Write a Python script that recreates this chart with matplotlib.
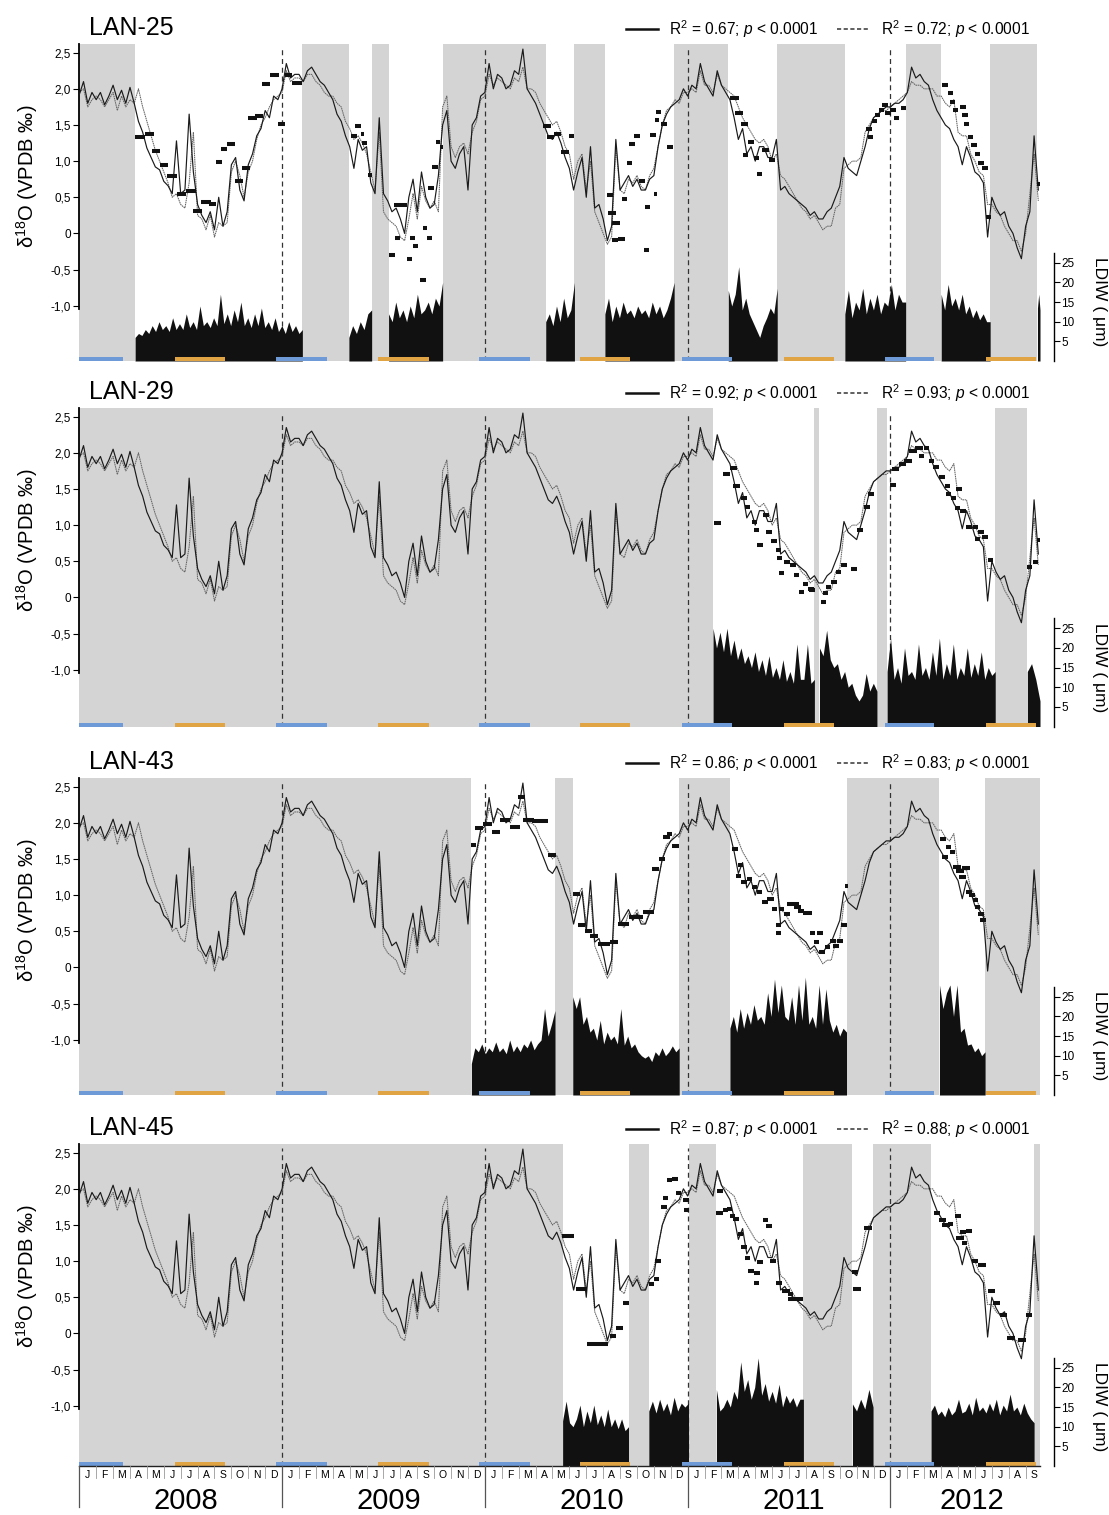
import matplotlib
matplotlib.use('Agg')
import matplotlib.pyplot as plt
import numpy as np
from matplotlib.lines import Line2D

plt.rcParams['font.family'] = ['Liberation Sans', 'DejaVu Sans']
plt.rcParams['mathtext.fontset'] = 'custom'
plt.rcParams['mathtext.rm'] = 'Liberation Sans'
plt.rcParams['mathtext.it'] = 'Liberation Sans:italic'

# predicted d18O from temperature, 4 samples per month starting Jan 2008
step = 0.25
pred_a = [
    1.92, 2.10, 1.80, 1.95, 1.85, 1.95, 1.78, 1.90, 2.05, 1.85, 1.98, 1.80,
    2.02, 1.80, 1.55, 1.40, 1.18, 1.05, 0.92, 0.88, 0.72, 0.66, 0.55, 1.28,
    0.55, 0.60, 1.65, 0.85, 0.40, 0.25, 0.15, 0.30, 0.05, 0.50, 0.10, 0.30,
    0.95, 1.05, 0.60, 0.45, 0.95, 1.10, 1.35, 1.45, 1.70, 1.60, 1.90, 1.85,
    2.00, 2.35, 2.15, 2.20, 2.20, 2.10, 2.25, 2.30, 2.20, 2.10, 2.05, 1.95,
    1.85, 1.65, 1.55, 1.35, 1.20, 0.90, 1.30, 1.15, 1.20, 0.70, 0.55, 1.60,
    0.55, 0.45, 0.30, 0.35, 0.20, 0.00, 0.50, 0.75, 0.30, 0.85, 0.50, 0.35,
    0.40, 0.80, 1.50, 1.70, 1.00, 0.90, 1.10, 1.20, 0.60, 1.50, 1.60, 1.90,
    1.95, 2.35, 2.00, 2.20, 2.15, 2.00, 2.05, 2.25, 2.20, 2.55, 2.00, 1.90,
    1.80, 1.65, 1.50, 1.35, 1.30, 1.40, 1.25, 1.05, 0.90, 0.60, 0.85, 1.05,
    0.50, 1.20, 0.35, 0.40, 0.20, -0.10, 0.10, 1.30, 0.60, 0.70, 0.80, 0.65,
    0.75, 0.60, 0.60, 0.75, 0.80, 1.20, 1.50, 1.65, 1.75, 1.80, 1.85, 2.00,
    1.90, 2.05, 2.00, 2.35, 2.10, 2.00, 1.90, 2.25, 2.05, 1.95, 1.85, 1.60,
    1.30, 1.45, 1.10, 1.20, 1.00, 1.20, 1.20, 1.05, 1.05, 1.30, 0.60, 0.65,
    0.55, 0.50, 0.45, 0.40, 0.35, 0.25, 0.30, 0.20, 0.20, 0.30, 0.35, 0.50,
    0.65, 1.05, 0.90, 0.85, 0.80, 1.00, 1.20, 1.45, 1.60, 1.65, 1.70, 1.75,
    1.75, 1.80, 1.80, 1.85, 1.95, 2.30, 2.15, 2.20, 2.10, 2.05, 1.85, 1.70,
    1.60, 1.50, 1.45, 1.30, 1.20, 0.95, 1.20, 1.05, 0.85, 0.80, 0.70, -0.05,
    0.50, 0.35, 0.25, 0.30, 0.10, 0.00, -0.20, -0.35, 0.10, 0.30, 1.35, 0.60,
]
pred_b = [
    1.95, 2.00, 1.75, 1.85, 1.90, 1.85, 1.75, 1.85, 1.95, 1.70, 1.90, 1.75,
    1.85, 1.80, 2.00, 1.75, 1.55, 1.35, 1.15, 1.00, 0.85, 0.70, 0.50, 0.55,
    0.40, 0.35, 0.70, 1.40, 0.25, 0.20, 0.05, 0.25, -0.05, 0.15, 0.10, 0.15,
    0.85, 1.00, 0.80, 0.50, 0.85, 1.00, 1.30, 1.50, 1.60, 1.75, 1.85, 1.90,
    1.95, 2.25, 2.10, 2.15, 2.15, 2.10, 2.20, 2.20, 2.10, 2.05, 1.95, 1.90,
    1.90, 1.80, 1.75, 1.55, 1.45, 1.30, 1.35, 1.25, 1.10, 0.85, 0.60, 1.40,
    0.30, 0.20, 0.15, 0.10, -0.05, -0.10, 0.20, 0.55, 0.20, 0.65, 0.45, 0.35,
    0.45, 0.30, 1.75, 1.90, 1.20, 1.05, 1.20, 1.25, 1.10, 1.40, 1.55, 1.85,
    1.90, 2.20, 2.05, 2.15, 2.10, 2.05, 2.00, 2.15, 2.10, 2.30, 2.00, 2.00,
    1.95, 1.80, 1.70, 1.60, 1.50, 1.55, 1.40, 1.20, 1.10, 0.75, 1.00, 1.10,
    0.60, 1.00, 0.30, 0.15, 0.00, -0.15, -0.05, 1.20, 0.60, 0.55, 0.75, 0.70,
    0.80, 0.65, 0.60, 0.80, 0.90, 1.20, 1.50, 1.70, 1.75, 1.85, 1.80, 1.95,
    1.95, 2.00, 1.95, 2.25, 2.05, 2.05, 1.95, 2.20, 2.05, 2.00, 1.95, 1.90,
    1.75, 1.60, 1.50, 1.40, 1.30, 1.25, 1.30, 1.20, 1.00, 1.10, 0.80, 0.75,
    0.65, 0.55, 0.45, 0.35, 0.30, 0.20, 0.25, 0.15, 0.05, 0.10, 0.10, 0.35,
    0.40, 0.90, 0.95, 1.00, 1.00, 1.05, 1.40, 1.50, 1.60, 1.65, 1.70, 1.70,
    1.75, 1.80, 1.85, 1.90, 1.95, 2.10, 2.05, 2.05, 2.00, 2.00, 2.00, 1.90,
    1.90, 1.80, 1.75, 1.85, 1.40, 1.35, 1.35, 1.10, 1.00, 0.85, 0.80, 0.40,
    0.40, 0.30, 0.25, 0.10, 0.00, -0.10, -0.10, -0.25, 0.00, 0.55, 1.10, 0.45,
]

shells = ['LAN-25', 'LAN-29', 'LAN-43', 'LAN-45']
r2_solid = ['0.67', '0.92', '0.86', '0.87']
r2_dash = ['0.72', '0.93', '0.83', '0.88']

# growth stops (grey), in months since Jan 2008
gaps = {
    'LAN-25': [(0, 3.3), (13.2, 15.95), (17.3, 18.3), (21.5, 27.6), (29.3, 31.1),
               (35.2, 38.4), (41.3, 45.3), (48.9, 51.0), (53.9, 56.7)],
    'LAN-29': [(0, 37.5), (43.5, 43.8), (47.2, 47.8), (54.2, 56.1)],
    'LAN-43': [(0, 23.2), (28.15, 29.2), (35.5, 38.5), (45.4, 50.9), (53.6, 56.85)],
    'LAN-45': [(0, 28.6), (32.5, 33.7), (36.05, 37.7), (42.85, 45.75), (46.97, 50.4),
               (56.5, 56.85)],
}

# daily increment width (um) for each growth period: (start, end, values)
ldiw = {
    'LAN-25': [
        (3.3, 13.2, [6, 7, 6.5, 8, 7, 9, 7.5, 10, 8, 9, 7.5, 11, 8, 9.5, 8, 12, 8.5, 10, 8, 14,
                     9, 10, 8.5, 11, 9, 17, 9.5, 12, 9, 13, 10, 15, 9, 11, 8.5, 12, 9, 13.5,
                     8.5, 10, 8, 11, 7.5, 9, 7, 10, 7.5, 9, 7, 8]),
        (15.95, 17.3, [6, 9, 7, 10, 8, 12, 13]),
        (18.3, 21.5, [12, 10, 15, 11, 13, 10, 14, 11, 17, 12, 13, 15, 12, 16, 14, 20]),
        (27.6, 29.3, [10, 12, 9, 14, 10, 16, 11, 13, 20]),
        (31.1, 35.2, [12, 16, 10, 14, 11, 15, 12, 13, 11, 14, 12, 13, 11, 15, 12, 14, 11, 13,
                      16, 20]),
        (38.4, 41.3, [18, 14, 17, 24, 13, 16, 12, 10, 8, 6, 9, 11, 13.5, 12, 18.5]),
        (45.3, 48.9, [12, 18, 11, 15, 13, 18.5, 12, 16, 13, 17, 12, 15, 14, 19.5, 13, 17, 15,
                      15]),
        (51.0, 53.9, [17, 13, 19.5, 14, 16, 13, 17, 12, 14, 11, 13, 10.5, 12, 10, 10]),
        (56.7, 56.85, [13.5, 17, 13]),
    ],
    'LAN-29': [
        (37.5, 43.5, [25, 20, 24, 19, 25, 18, 22, 17, 20, 16, 18, 15, 19, 14, 17, 13, 18, 12.5,
                      15, 12, 17, 11.5, 14, 11, 21, 12, 12, 21, 11, 12]),
        (43.8, 47.2, [20, 18, 24.5, 17, 15, 16, 12, 14, 10, 11, 8, 6.5, 8, 13.5, 9, 11, 9]),
        (47.8, 54.2, [14, 22.5, 12, 15, 11, 20, 13, 14, 12, 21, 13, 15, 12, 19, 13, 22.5, 12,
                      16, 13, 21, 12, 15, 13, 20, 12.5, 16, 13, 19, 12, 15, 13, 14]),
        (56.1, 56.85, [14, 16, 12, 6.5]),
    ],
    'LAN-43': [
        (23.2, 28.15, [8, 12, 11, 13, 10.5, 12, 11, 13.5, 11, 12, 10.5, 14, 11, 12.5, 11, 13,
                       12, 14, 11.5, 13, 14, 22, 15, 18, 21.5]),
        (29.2, 35.5, [25, 22, 25, 18, 20, 16, 17, 14, 19, 13, 16, 14, 15, 13, 22, 12.7, 15, 12,
                      13, 11, 10, 9.4, 10, 8.5, 11, 10, 12, 10, 11, 12.5, 11, 12]),
        (38.5, 45.4, [17, 20, 16, 22, 17, 21, 18, 23, 19, 20, 18, 26, 20, 29.5, 21, 28, 20, 19,
                      25, 18, 28, 19, 30, 18, 20, 17, 28, 18, 27, 19, 16, 18, 15, 17, 16]),
        (50.9, 53.6, [28, 22, 26, 28, 20, 28, 16, 17, 12.7, 13, 11, 12, 10, 11]),
    ],
    'LAN-45': [
        (28.6, 32.5, [11.5, 16.5, 11, 10, 12, 15.5, 10, 14, 11, 15.5, 10.5, 13, 10, 14.5, 10,
                      12, 9.5, 12, 9, 10]),
        (33.7, 36.05, [14, 16.5, 13.5, 17, 14, 16, 13, 17.5, 14, 16, 15, 16]),
        (37.7, 42.85, [19.5, 14, 15, 17, 15, 19, 17, 26.5, 19, 22, 17, 20, 27.5, 18, 21, 16.5,
                       19, 16, 20.8, 15, 18, 16, 17.4, 15, 17, 17]),
        (45.75, 46.97, [15.8, 14, 17, 14.5, 19.5, 15]),
        (50.4, 56.5, [14, 15.5, 13, 14, 12.5, 15, 13, 14, 17, 13.5, 14, 16, 13, 17.5, 14, 15,
                      13.5, 16, 14, 17, 13, 15.5, 14, 18.3, 14, 15, 13, 16, 13.5, 12, 11]),
    ],
}

# measured shell d18O samples: (start month, end month, value)
measured = {
    'LAN-25': [
        (3.30, 3.86, 1.34), (3.86, 4.40, 1.37), (4.30, 4.80, 1.14), (4.75, 5.24, 0.95),
        (5.20, 5.77, 0.79), (5.80, 6.30, 0.55), (6.30, 6.90, 0.58), (6.70, 7.25, 0.31),
        (7.20, 7.80, 0.44), (7.67, 8.10, 0.41), (8.10, 8.45, 0.99), (8.37, 8.75, 1.17),
        (8.75, 9.20, 1.23), (9.20, 9.68, 0.72), (9.60, 10.10, 0.90), (10.00, 10.50, 1.59),
        (10.40, 10.90, 1.62), (10.84, 11.30, 2.06), (11.26, 11.80, 2.19), (11.75, 12.20, 1.51),
        (12.15, 12.60, 2.19), (12.60, 13.20, 2.08),
        (16.10, 16.44, 1.35), (16.30, 16.65, 1.49), (16.65, 16.86, 1.37), (16.75, 17.00, 1.25),
        (17.07, 17.30, 0.81),
        (18.34, 18.66, -0.30), (18.66, 18.97, -0.06), (18.60, 19.40, 0.39), (19.40, 19.70, -0.36),
        (19.56, 19.88, -0.06), (19.75, 20.07, -0.18), (20.17, 20.50, -0.65), (20.35, 20.60, 0.07),
        (20.56, 20.87, -0.06), (20.66, 20.98, 0.63), (20.87, 21.20, 0.92), (21.10, 21.34, 1.27),
        (21.34, 21.50, 1.20),
        (27.46, 27.90, 1.48), (27.70, 28.10, 1.34), (28.10, 28.50, 1.38), (28.50, 28.96, 1.13),
        (28.96, 29.30, 1.35),
        (31.20, 31.60, 0.53), (31.30, 31.75, 0.28), (31.50, 32.00, 0.15), (31.50, 31.85, -0.09),
        (31.90, 32.30, -0.08), (32.10, 32.40, 0.48), (32.40, 32.70, 0.98), (32.50, 32.90, 1.24),
        (32.80, 33.20, 1.35), (33.15, 33.50, 0.72), (33.40, 33.70, -0.23), (33.50, 33.80, 0.37),
        (33.80, 34.10, 1.36), (34.00, 34.20, 0.54), (34.07, 34.30, 1.57), (34.10, 34.40, 1.68),
        (34.40, 34.75, 1.51), (34.75, 35.15, 1.20),
        (38.50, 39.05, 1.87), (38.80, 39.25, 1.66), (39.15, 39.60, 1.51), (39.26, 39.60, 1.08),
        (39.60, 39.90, 1.27), (39.90, 40.20, 1.05), (40.10, 40.40, 0.82), (40.40, 40.80, 1.15),
        (40.80, 41.15, 1.02),
        (46.55, 46.90, 1.45), (46.66, 46.97, 1.34), (46.90, 47.20, 1.55), (47.10, 47.40, 1.64),
        (47.30, 47.60, 1.71), (47.50, 47.85, 1.78), (47.70, 48.05, 1.66), (47.95, 48.30, 1.71),
        (48.20, 48.50, 1.59), (48.60, 48.90, 1.73),
        (51.06, 51.40, 2.05), (51.40, 51.70, 1.94), (51.50, 51.80, 1.82), (51.70, 52.00, 1.71),
        (52.10, 52.46, 1.75), (52.25, 52.56, 1.64), (52.35, 52.67, 1.52), (52.57, 52.90, 1.34),
        (52.78, 53.10, 1.22), (53.00, 53.30, 1.10), (53.20, 53.53, 0.97), (53.40, 53.75, 0.90),
        (53.64, 53.96, 0.23), (56.65, 56.85, 0.69),
    ],
    'LAN-29': [
        (37.55, 38.00, 1.03), (38.10, 38.50, 1.71), (38.50, 38.90, 1.79), (38.70, 39.10, 1.54),
        (39.15, 39.50, 1.37), (39.40, 39.70, 1.25), (39.80, 40.10, 1.04), (39.90, 40.20, 0.93),
        (40.10, 40.45, 0.72), (40.45, 40.80, 1.14), (40.65, 41.00, 0.91), (40.95, 41.30, 0.78),
        (41.20, 41.50, 0.65), (41.30, 41.60, 0.54), (41.40, 41.70, 0.34), (41.70, 42.05, 0.49),
        (42.05, 42.40, 0.45), (42.30, 42.60, 0.31), (42.60, 42.90, 0.08), (42.80, 43.10, 0.18),
        (43.10, 43.45, 0.11), (43.20, 43.55, 0.10), (43.90, 44.20, -0.07), (44.00, 44.30, 0.06),
        (44.20, 44.50, 0.15), (44.50, 44.85, 0.22), (44.75, 45.05, 0.35), (45.05, 45.40, 0.45),
        (45.65, 46.00, 0.40), (46.00, 46.35, 0.93), (46.45, 46.80, 1.25), (46.65, 47.00, 1.43),
        (47.95, 48.30, 1.56), (48.10, 48.50, 1.78), (48.50, 48.90, 1.85), (48.80, 49.25, 1.89),
        (49.10, 49.55, 2.03), (49.45, 49.90, 2.06), (49.67, 50.00, 1.95), (50.00, 50.30, 2.06),
        (50.30, 50.60, 1.89), (50.50, 50.85, 1.80), (50.85, 51.20, 1.66), (51.20, 51.50, 1.54),
        (51.30, 51.60, 1.43), (51.60, 51.90, 1.38), (51.80, 52.10, 1.23), (51.90, 52.25, 1.50),
        (52.10, 52.45, 1.20), (52.45, 52.80, 0.97), (52.90, 53.20, 0.97), (53.00, 53.30, 0.81),
        (53.20, 53.55, 0.91), (53.40, 53.75, 0.84), (53.75, 54.05, 0.52), (56.10, 56.40, 0.42),
        (56.45, 56.75, 0.49), (56.65, 56.85, 0.80),
    ],
    'LAN-43': [
        (23.20, 23.50, 1.70), (23.40, 23.90, 1.93), (23.90, 24.45, 1.99), (24.40, 24.90, 1.88),
        (24.90, 25.50, 2.04), (25.50, 26.05, 1.94), (25.95, 26.37, 2.36), (26.26, 26.90, 2.04),
        (26.80, 27.75, 2.02), (27.75, 28.20, 1.55),
        (29.20, 29.60, 1.02), (29.50, 29.90, 0.58), (29.90, 30.35, 0.51), (30.25, 30.70, 0.44),
        (30.70, 31.40, 0.33), (31.40, 31.85, 0.35), (31.85, 32.50, 0.60), (32.50, 33.35, 0.70),
        (33.35, 34.00, 0.76), (33.90, 34.30, 1.36), (34.30, 34.65, 1.50), (34.55, 34.97, 1.80),
        (34.75, 35.10, 1.85), (35.10, 35.50, 1.68),
        (38.65, 39.00, 1.64), (38.85, 39.15, 1.27), (39.00, 39.30, 1.41), (39.15, 39.50, 1.18),
        (39.50, 39.80, 1.22), (39.80, 40.10, 1.11), (40.10, 40.40, 1.05), (40.40, 40.75, 0.90),
        (40.70, 41.10, 0.95), (41.00, 41.30, 0.81), (41.20, 41.50, 0.58), (41.20, 41.50, 0.48),
        (41.40, 41.70, 0.81), (41.70, 42.05, 0.74), (41.85, 42.60, 0.88), (42.30, 42.70, 0.84),
        (42.50, 42.90, 0.78), (42.80, 43.35, 0.75), (43.25, 43.55, 0.47), (43.45, 43.80, 0.35),
        (43.65, 44.00, 0.48), (43.80, 44.10, 0.21), (44.10, 44.40, 0.28), (44.40, 44.75, 0.37),
        (44.60, 44.95, 0.30), (44.85, 45.20, 0.37), (45.05, 45.40, 0.58), (45.30, 45.50, 1.13),
        (50.95, 51.30, 1.78), (51.05, 51.40, 1.53), (51.30, 51.60, 1.66), (51.50, 51.80, 1.59),
        (51.70, 52.15, 1.39), (51.90, 52.35, 1.33), (52.05, 52.45, 1.25), (52.25, 52.70, 1.38),
        (52.45, 52.80, 1.04), (52.65, 53.00, 1.00), (52.90, 53.20, 0.93), (53.00, 53.30, 0.83),
        (53.20, 53.55, 0.74), (53.30, 53.65, 0.65),
    ],
    'LAN-45': [
        (28.55, 29.30, 1.35), (29.40, 30.05, 0.61), (30.05, 31.30, -0.14), (31.40, 31.75, -0.04),
        (31.75, 32.20, 0.08), (32.20, 32.50, 0.42),
        (33.70, 34.00, 0.69), (34.00, 34.30, 0.75), (34.05, 34.40, 1.00), (34.45, 34.75, 1.75),
        (34.55, 34.85, 1.88), (34.75, 35.10, 2.12), (35.10, 35.40, 2.14), (35.30, 35.60, 1.94),
        (35.70, 36.05, 1.84), (35.80, 36.05, 1.71),
        (37.75, 38.10, 1.97), (37.70, 38.10, 1.67), (38.10, 38.40, 1.71), (38.30, 38.60, 1.72),
        (38.50, 38.80, 1.63), (38.70, 39.05, 1.58), (39.00, 39.30, 1.37), (39.15, 39.50, 1.20),
        (39.40, 39.70, 1.04), (39.60, 39.90, 0.87), (39.90, 40.20, 0.70), (39.95, 40.30, 0.83),
        (40.10, 40.45, 0.99), (40.45, 40.75, 1.57), (40.65, 41.00, 1.48), (40.85, 41.20, 1.00),
        (41.20, 41.60, 0.70), (41.60, 42.05, 0.58), (41.95, 42.25, 0.55), (41.95, 42.80, 0.48),
        (45.80, 46.25, 0.61), (45.70, 46.10, 0.85), (46.45, 46.90, 1.46),
        (50.60, 50.95, 1.66), (50.85, 51.30, 1.57), (51.05, 51.50, 1.50), (51.40, 51.70, 1.52),
        (51.80, 52.15, 1.62), (51.90, 52.35, 1.32), (52.10, 52.45, 1.40), (52.25, 52.55, 1.25),
        (52.45, 52.80, 1.42), (52.80, 53.20, 1.00), (53.20, 53.65, 0.95), (53.75, 54.20, 0.58),
        (54.05, 54.50, 0.42), (54.50, 54.90, 0.25), (54.90, 55.35, -0.06), (55.55, 56.00, -0.09),
        (56.00, 56.40, 0.25),
    ],
}

# winter (blue) and summer (orange) quarters
winters = [(-0.35, 2.6), (11.65, 14.65), (23.65, 26.65), (35.65, 38.6), (47.65, 50.6)]
summers = [(5.65, 8.65), (17.65, 20.7), (29.65, 32.6), (41.7, 44.65), (53.65, 56.6)]

month_letters = ['J', 'F', 'M', 'A', 'M', 'J', 'J', 'A', 'S', 'O', 'N', 'D']
years = ['2008', '2009', '2010', '2011', '2012']
year_centers = [6.3, 18.3, 30.3, 42.3, 52.8]

# layout (pixels)
W, H = 1109, 1515
X0, X1 = 79.3, 1040.0
XMAX = 56.85
panels_px = [(44, 361), (408, 726.5), (778, 1095), (1144, 1466)]
YTOP = 2.62
px_unit = 72.3
px_um = 3.93
grey = '#d4d4d4'
blue = '#6f9ad8'
orange = '#e0a445'

fig = plt.figure(figsize=(W / 100, H / 100), dpi=100)
t = np.arange(len(pred_a)) * step

for i, name in enumerate(shells):
    top, bot = panels_px[i]
    hpx = bot - top
    ax = fig.add_axes([X0 / W, 1 - bot / H, (X1 - X0) / W, hpx / H])
    ylo = YTOP - hpx / px_unit
    ax.set_xlim(0, XMAX)
    ax.set_ylim(ylo, YTOP)

    for a, b in gaps[name]:
        ax.axvspan(a, b, color=grey, lw=0, zorder=0)
    for yr in [12, 24, 36, 48]:
        ax.axvline(yr, ymax=(2.56 - ylo) / (YTOP - ylo), color='#333333', lw=0.9,
                   dashes=(4, 3), zorder=1)

    ax.plot(t, pred_b, color='#666666', lw=0.75, ls=(0, (1.5, 0.6)), zorder=2)
    ax.plot(t, pred_a, color='#1a1a1a', lw=0.85, zorder=3)
    for x0, x1, y in measured[name]:
        ax.hlines(y, x0, x1, color='#111111', lw=2.9, zorder=4)

    for s in ['top', 'right', 'bottom']:
        ax.spines[s].set_visible(False)
    ax.spines['left'].set_bounds(-1.05, YTOP)
    ax.spines['left'].set_linewidth(1.3)
    ax.set_xticks([])
    ticks = [-1.0, -0.5, 0, 0.5, 1.0, 1.5, 2.0, 2.5]
    ax.set_yticks(ticks)
    ax.set_yticklabels(['-1,0', '-0,5', '0', '0,5', '1,0', '1,5', '2,0', '2,5'])
    ax.tick_params(axis='y', direction='out', length=4, width=0.8, labelsize=8.5, pad=2)

    # LDIW on a second axis
    ax2 = ax.twinx()
    ax2.set_xlim(0, XMAX)
    ax2.set_ylim(0, hpx / px_um)
    for a, b, vals in ldiw[name]:
        xs = np.linspace(a, b, len(vals))
        ax2.fill_between(xs, 0, vals, color='#111111', lw=0, zorder=2)
    for a, b in winters:
        ax2.axvspan(a, b, ymin=0, ymax=4 / hpx, color=blue, lw=0, zorder=5)
    for a, b in summers:
        ax2.axvspan(a, b, ymin=0, ymax=4 / hpx, color=orange, lw=0, zorder=5)
    for s in ['top', 'left', 'bottom']:
        ax2.spines[s].set_visible(False)
    ax2.spines['right'].set_position(('outward', 10.4))
    ax2.spines['right'].set_bounds(0, 27.5)
    ax2.spines['right'].set_linewidth(1.0)
    ax2.set_yticks([5, 10, 15, 20, 25])
    ax2.tick_params(axis='y', direction='out', length=4, width=0.8, labelsize=8.5, pad=1)

    # texts
    fig.text(89 / W, 1 - (top - 9) / H, name, fontsize=18, va='baseline', ha='left')
    fig.text(27 / W, 1 - (top + 132) / H, 'δ$^{18}$O (VPDB ‰)', fontsize=14.5,
             rotation=90, va='center', ha='center')
    fig.text(1100 / W, 1 - (bot - 59) / H, 'LDIW ( μm)', fontsize=12.5,
             rotation=270, va='center', ha='center')

    yl = 1 - (top - 15) / H
    fig.add_artist(Line2D([626 / W, 658 / W], [yl, yl], color='#111111', lw=1.8))
    fig.text(669 / W, yl, 'R$^2$ = ' + r2_solid[i] + '; $p$ < 0.0001', fontsize=11.2,
             va='center', ha='left')
    fig.add_artist(Line2D([837 / W, 868 / W], [yl, yl], color='#444444', lw=1.2,
                          dashes=(2.5, 1.5)))
    fig.text(881 / W, yl, 'R$^2$ = ' + r2_dash[i] + '; $p$ < 0.0001', fontsize=11.2,
             va='center', ha='left')

# time axis under the last panel
axt = fig.add_axes([X0 / W, 0, (X1 - X0) / W, (H - 1466) / H])
axt.set_xlim(0, XMAX)
axt.set_ylim(H - 1466, 0)
axt.axis('off')
axt.plot([0, XMAX], [0, 0], color='#222222', lw=1.0, clip_on=False)
for m in range(57):
    if m % 12 == 0:
        axt.plot([m, m], [0, 41], color='#555555', lw=0.9, clip_on=False)
    else:
        axt.plot([m, m], [0, 12], color='#999999', lw=0.6, clip_on=False)
    axt.text(m + 0.5, 8.5, month_letters[m % 12], fontsize=7.5, ha='center', va='center')
for yc, yr in zip(year_centers, years):
    axt.text(yc, 35, yr, fontsize=21, ha='center', va='center')

fig.savefig('out.png', dpi=100)
